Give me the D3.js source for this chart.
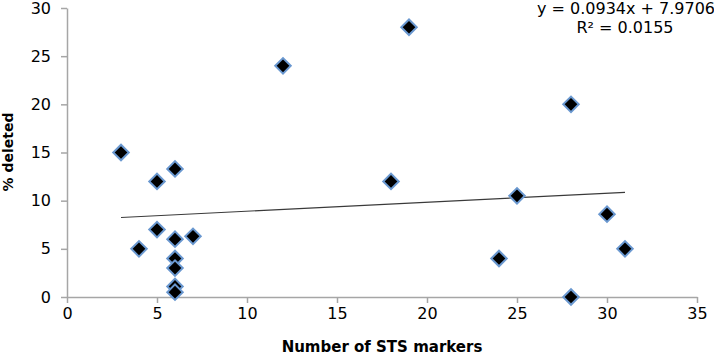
<!DOCTYPE html>
<html>
<head>
<meta charset="utf-8">
<script src="https://cdn.jsdelivr.net/npm/d3@7"></script>
<style>
  body { margin: 0; background: #fff; }
  text { font-family: "DejaVu Sans", sans-serif; }
</style>
</head>
<body>
<div id="chart"></div>
<script>
// Scatter of % deleted vs number of STS markers, with linear trendline

var markers = [3, 5, 6, 4, 5, 6, 7, 6, 6, 6, 6, 12, 19, 18, 28, 25, 30, 31, 24, 28];
var deleted = [15, 12, 13.3, 5, 7, 6, 6.3, 4, 3, 1.1, 0.5, 24, 28, 12, 20, 10.5, 8.6, 5, 4, 0];
var xTicks = [0, 5, 10, 15, 20, 25, 30, 35];
var yTicks = [0, 5, 10, 15, 20, 25, 30];
var slope = 0.0934, intercept = 7.9706, r2 = 0.0155;

var width = 714, height = 355;
var margin = {top: 8, right: 17, bottom: 58, left: 67};

var svg = d3.select('#chart').append('svg')
    .attr('width', width)
    .attr('height', height);

var x = d3.scaleLinear().domain([0, 35]).range([margin.left, width - margin.right]);
var y = d3.scaleLinear().domain([0, 30]).range([height - margin.bottom, margin.top]);

// Axes
var xAxis = svg.append('g')
    .attr('transform', 'translate(0,' + y(0) + ')')
    .call(d3.axisBottom(x).tickValues(xTicks).tickSize(6).tickSizeOuter(0).tickPadding(5));

var yAxis = svg.append('g')
    .attr('transform', 'translate(' + x(0) + ',0)')
    .call(d3.axisLeft(y).tickValues(yTicks).tickSize(6).tickSizeOuter(0).tickPadding(10));

[xAxis, yAxis].forEach(function(a) {
    a.select('.domain').attr('stroke', '#a6a6a6').attr('stroke-width', 1.5);
    a.selectAll('.tick line').attr('stroke', '#a6a6a6').attr('stroke-width', 1.5);
    a.selectAll('.tick text')
        .attr('fill', '#000')
        .style('font-size', '16px')
        .style('font-family', '"DejaVu Sans", sans-serif');
});

// Trendline over the data range
var xExt = d3.extent(markers);
svg.append('line')
    .attr('x1', x(xExt[0])).attr('y1', y(slope * xExt[0] + intercept))
    .attr('x2', x(xExt[1])).attr('y2', y(slope * xExt[1] + intercept))
    .attr('stroke', '#3a3a3a')
    .attr('stroke-width', 1.2);

// Diamonds
var diamond = d3.symbol().type(d3.symbolSquare).size(120);
svg.append('g').selectAll('path')
    .data(d3.range(markers.length))
    .enter().append('path')
    .attr('d', diamond)
    .attr('transform', function(i) {
        return 'translate(' + x(markers[i]) + ',' + y(deleted[i]) + ') rotate(45)';
    })
    .attr('fill', '#000')
    .attr('stroke', '#6a98d0')
    .attr('stroke-width', 2);

// Equation label
svg.append('text')
    .attr('x', 626).attr('y', 14)
    .attr('text-anchor', 'middle')
    .style('font-size', '16px')
    .text('y = ' + slope + 'x + ' + intercept);
svg.append('text')
    .attr('x', 625).attr('y', 33)
    .attr('text-anchor', 'middle')
    .style('font-size', '16px')
    .text('R² = ' + r2);

// Axis titles
svg.append('text')
    .attr('x', 382)
    .attr('y', 352)
    .attr('text-anchor', 'middle')
    .style('font-size', '15px')
    .style('font-weight', 'bold')
    .text('Number of STS markers');

svg.append('text')
    .attr('transform', 'translate(13,' + 152 + ') rotate(-90)')
    .attr('text-anchor', 'middle')
    .style('font-size', '14px')
    .style('font-weight', 'bold')
    .text('% deleted');
</script>
</body>
</html>
